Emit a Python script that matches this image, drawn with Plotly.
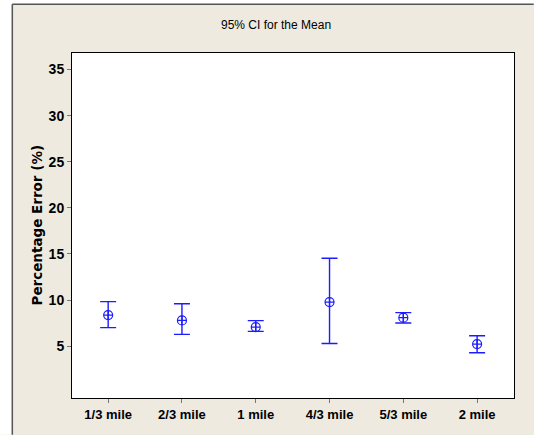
import plotly.graph_objects as go

# Interval plot: 95% confidence interval of the mean percentage error per distance
distances = ["1/3 mile", "2/3 mile", "1 mile", "4/3 mile", "5/3 mile", "2 mile"]
means = [8.37, 7.79, 7.07, 9.78, 8.08, 5.22]
upper = [9.83, 9.60, 7.76, 14.53, 8.63, 6.13]
lower = [7.00, 6.27, 6.60, 5.29, 7.50, 4.28]
y_ticks = [5, 10, 15, 20, 25, 30, 35]

BLUE = "#1c1cff"
BEIGE = "#eeeae0"

fig = go.Figure()
fig.add_trace(go.Scatter(
    x=list(range(len(distances))),
    y=means,
    mode="markers",
    marker=dict(symbol="circle-cross-open", size=9, color=BLUE,
                line=dict(color=BLUE, width=1.2)),
    error_y=dict(type="data", symmetric=False,
                 array=[u - m for u, m in zip(upper, means)],
                 arrayminus=[m - l for m, l in zip(means, lower)],
                 color=BLUE, thickness=1.4, width=8),
    showlegend=False,
    hoverinfo="skip",
))

# plot area in pixels: left 72, right 514, top 53, bottom 398
L, R, T, B = 72.2, 514.3, 53.3, 398.3
W, H = R - L, B - T

def px(x):
    return (x - L) / W

def py(y):
    return (B - y) / H

shapes = [
    # white margin left/top of the framed panel
    dict(type="rect", xref="paper", yref="paper", x0=px(0), x1=px(12), y0=py(435), y1=py(0),
         fillcolor="white", line=dict(width=0), layer="above"),
    dict(type="rect", xref="paper", yref="paper", x0=px(0), x1=px(534), y0=py(4.5), y1=py(0),
         fillcolor="white", line=dict(width=0), layer="above"),
    # panel edges
    dict(type="line", xref="paper", yref="paper", x0=px(12.5), x1=px(12.5), y0=py(435), y1=py(4.5),
         line=dict(color="#555555", width=1.5), layer="above"),
    dict(type="line", xref="paper", yref="paper", x0=px(12.5), x1=px(534), y0=py(4.5), y1=py(4.5),
         line=dict(color="#555555", width=1.5), layer="above"),
]

fig.update_layout(
    width=534, height=435,
    margin=dict(l=L, r=534 - R, t=T, b=435 - B, pad=0),
    paper_bgcolor=BEIGE,
    plot_bgcolor="white",
    shapes=shapes,
    annotations=[
        dict(text="95% CI for the Mean", xref="paper", yref="paper",
             x=px(276.5), y=py(25), xanchor="center", yanchor="middle", showarrow=False,
             font=dict(family="Liberation Sans", size=12, color="black")),
        dict(text="<b>Percentage Error (%)</b>", xref="paper", yref="paper",
             x=px(37), y=py(225), xanchor="center", yanchor="middle", showarrow=False,
             textangle=-90,
             font=dict(family="DejaVu Sans", size=13.5, color="black")),
    ],
    xaxis=dict(
        range=[-0.49, 5.5],
        tickmode="array", tickvals=list(range(len(distances))),
        ticktext=[f"<b>{d}</b>" for d in distances],
        ticks="outside", ticklen=4, tickcolor="#777777", tickwidth=1,
        showline=True, linecolor="black", linewidth=1, mirror=True,
        showgrid=False, zeroline=False,
        tickfont=dict(family="Liberation Sans", size=13, color="black"),
    ),
    yaxis=dict(
        range=[-0.63, 36.8],
        tickmode="array", tickvals=y_ticks,
        ticktext=[f"<b>{v}</b>" for v in y_ticks],
        ticks="outside", ticklen=4, tickcolor="#777777", tickwidth=1,
        showline=True, linecolor="black", linewidth=1, mirror=True,
        showgrid=False, zeroline=False,
        tickfont=dict(family="Liberation Sans", size=14, color="black"),
    ),
)

fig.write_html("out.html")
